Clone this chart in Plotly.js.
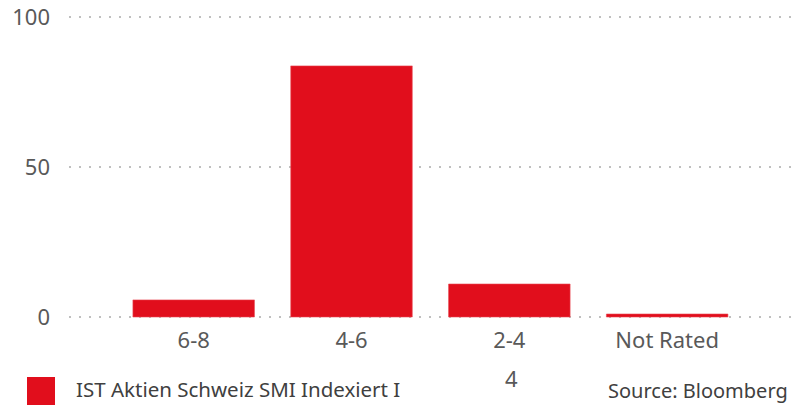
<!DOCTYPE html>
<html>
<head>
<meta charset="utf-8">
<script src="https://cdn.plot.ly/plotly-3.0.1.min.js"></script>
<style>html,body{margin:0;padding:0;background:#fff;}#chart{width:804px;height:406px;}</style>
</head>
<body>
<div id="chart"></div>
<script>
const categories = ["6-8", "4-6", "2-4", "Not Rated"];
const seriesName = "IST Aktien Schweiz SMI Indexiert I";
const values = [5.7, 83.7, 11.0, 1.0];
const yTicks = [0, 50, 100];
const xTitle = "4";
const sourceText = "Source: Bloomberg";

const red = "#e10e1c";
const font = "Noto Sans, Open Sans, sans-serif";

const trace = {
  type: "bar",
  x: categories,
  y: values,
  name: seriesName,
  marker: { color: red, line: { color: "#e84a54", width: 0.6 } },
  width: 0.77,
  hoverinfo: "x+y",
  showlegend: false
};

// plot area: x 69..795, y (value 101) 14 .. (value -1) 320 -> 3px per unit
const L = 69, R = 795, T = 14, B = 320;
const px = x => (x - L) / (R - L);
const py = y => (B - y) / (B - T);

const layout = {
  width: 804, height: 406,
  margin: { l: L, r: 804 - R, t: T, b: 406 - B },
  paper_bgcolor: "#fff", plot_bgcolor: "#fff",
  font: { family: font, color: "#595959", size: 22 },
  xaxis: {
    type: "category",
    range: [-0.79, 3.81],
    showgrid: false, showline: false, zeroline: false,
    ticks: "", tickfont: { size: 22, color: "#595959" },
    ticklabelstandoff: 5
  },
  yaxis: {
    range: [-1, 101],
    tickvals: yTicks,
    showgrid: true, gridcolor: "#bfbfbf", gridwidth: 1.5, griddash: "1.5px,8.5px",
    zeroline: false, showline: false, ticks: "",
    tickfont: { size: 22, color: "#595959" },
    ticklabelstandoff: 18
  },
  shapes: [
    { type: "rect", xref: "paper", yref: "paper",
      x0: px(27), x1: px(55), y0: py(405), y1: py(377),
      fillcolor: red, line: { width: 0 } }
  ],
  annotations: [
    { text: xTitle, xref: "paper", yref: "paper", x: px(511), y: py(378),
      showarrow: false, xanchor: "center", yanchor: "middle", font: { size: 22, color: "#595959" } },
    { text: seriesName, xref: "paper", yref: "paper", x: px(74), y: py(389),
      showarrow: false, xanchor: "left", yanchor: "middle", font: { size: 20.5, color: "#404040" } },
    { text: sourceText, xref: "paper", yref: "paper", x: px(790), y: py(390),
      showarrow: false, xanchor: "right", yanchor: "middle", font: { size: 20, color: "#404040" } }
  ]
};

Plotly.newPlot("chart", [trace], layout, { displayModeBar: false, staticPlot: true });
</script>
</body>
</html>
